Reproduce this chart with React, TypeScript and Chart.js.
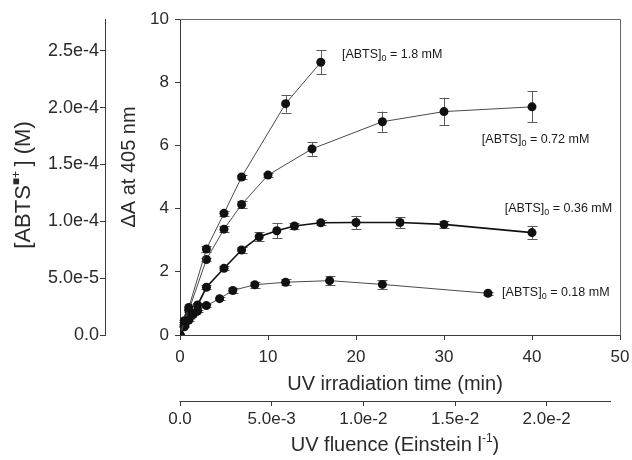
import React, { useEffect, useRef } from 'react';
import { Chart, registerables } from 'chart.js';

Chart.register(...registerables);

// ---- data ----
const SERIES_NAMES = ['1.8', '0.72', '0.36', '0.18'];

const TIME_180 = [0, 0.5, 1, 3, 5, 7, 12, 16];
const DA_180 = [0, 0.45, 0.87, 2.72, 3.85, 5.0, 7.32, 8.63];
const ERR_180 = [0, 0.04, 0.05, 0.1, 0.08, 0.07, 0.28, 0.38];

const TIME_072 = [0, 0.5, 1, 3, 5, 7, 10, 15, 23, 30, 40];
const DA_072 = [0, 0.38, 0.78, 2.39, 3.35, 4.13, 5.06, 5.89, 6.75, 7.07, 7.22];
const ERR_072 = [0, 0.04, 0.05, 0.06, 0.1, 0.12, 0.07, 0.22, 0.32, 0.44, 0.49];

const TIME_036 = [0, 0.5, 1, 2, 3, 5, 7, 9, 11, 13, 16, 20, 25, 30, 40];
const DA_036 = [0, 0.3, 0.6, 0.95, 1.51, 2.11, 2.69, 3.11, 3.3, 3.45, 3.55, 3.56, 3.56, 3.5, 3.24];
const ERR_036 = [0, 0.03, 0.04, 0.05, 0.06, 0.06, 0.08, 0.15, 0.24, 0.08, 0.08, 0.21, 0.17, 0.12, 0.2];

const TIME_018 = [0, 0.5, 1, 1.5, 2, 3, 4.5, 6, 8.5, 12, 17, 23, 35];
const DA_018 = [0, 0.26, 0.47, 0.65, 0.76, 0.93, 1.15, 1.41, 1.59, 1.67, 1.72, 1.6, 1.32];
const ERR_018 = [0, 0.02, 0.03, 0.03, 0.03, 0.04, 0.05, 0.08, 0.1, 0.1, 0.15, 0.13, 0.05];

// label anchors (data coordinates: time, ΔA)
const LABEL_T = [18.4, 34.3, 36.9, 36.6];
const LABEL_DA = [8.92, 6.23, 4.05, 1.39];

const TIME_MIN = 0;
const TIME_MAX = 50;
const TIME_STEP = 10;
const DA_MIN = 0;
const DA_MAX = 10;
const DA_STEP = 2;

const ABTS_MAX = 2.78e-4;
const ABTS_TICKS = [0, 5e-5, 1e-4, 1.5e-4, 2e-4, 2.5e-4];
const ABTS_TICK_LABELS = ['0.0', '5.0e-5', '1.0e-4', '1.5e-4', '2.0e-4', '2.5e-4'];

const FLUENCE_MAX = 0.024;
const FLUENCE_AXIS_END = 0.02351;
const FLUENCE_TICKS = [0, 0.005, 0.01, 0.015, 0.02];
const FLUENCE_TICK_LABELS = ['0.0', '5.0e-3', '1.0e-2', '1.5e-2', '2.0e-2'];

// ---- style ----
const FAMILY = '"Liberation Sans", Arial, Helvetica, sans-serif';
const TEXT = '#2a2a2a';
const AXIS = '#3a3a3a';

type Run = { text: string; size: number; dy: number };

function drawRuns(
  ctx: CanvasRenderingContext2D,
  runs: Run[],
  x: number,
  y: number,
  rot: number,
  align: 'center' | 'left',
  color: string,
) {
  ctx.save();
  ctx.translate(x, y);
  ctx.rotate(rot);
  ctx.fillStyle = color;
  ctx.textBaseline = 'alphabetic';
  ctx.textAlign = 'left';
  let total = 0;
  const widths = runs.map((r) => {
    ctx.font = `${r.size}px ${FAMILY}`;
    const w = ctx.measureText(r.text).width;
    total += w;
    return w;
  });
  let cur = align === 'center' ? -total / 2 : 0;
  runs.forEach((r, i) => {
    ctx.font = `${r.size}px ${FAMILY}`;
    ctx.fillText(r.text, cur, r.dy);
    cur += widths[i];
  });
  ctx.restore();
}

const decorPlugin = {
  id: 'decor',
  beforeDatasetsDraw(chart: any) {
    const ctx = chart.ctx as CanvasRenderingContext2D;
    const xs = chart.scales.x;
    const ys = chart.scales.y;
    ctx.save();
    ctx.strokeStyle = '#5a5a5a';
    ctx.lineWidth = 1;
    chart.data.datasets.forEach((ds: any) => {
      (ds.data as any[]).forEach((p, i) => {
        const e = ds.errors[i];
        if (!e) return;
        const px = Math.round(xs.getPixelForValue(p.x)) + 0.5;
        const y1 = ys.getPixelForValue(p.y + e);
        const y2 = ys.getPixelForValue(p.y - e);
        ctx.beginPath();
        ctx.moveTo(px, y1);
        ctx.lineTo(px, y2);
        ctx.moveTo(px - 5, Math.round(y1) + 0.5);
        ctx.lineTo(px + 5, Math.round(y1) + 0.5);
        ctx.moveTo(px - 5, Math.round(y2) + 0.5);
        ctx.lineTo(px + 5, Math.round(y2) + 0.5);
        ctx.stroke();
      });
    });
    ctx.restore();
  },
  afterDraw(chart: any) {
    const ctx = chart.ctx as CanvasRenderingContext2D;
    const { left, right, top, bottom } = chart.chartArea;
    const xs = chart.scales.x;
    const ys = chart.scales.y;
    const x2 = chart.scales.x2;
    const y2 = chart.scales.y2;
    ctx.save();
    ctx.strokeStyle = '#666';
    ctx.lineWidth = 1;
    ctx.beginPath();
    ctx.moveTo(left, Math.round(top) + 0.5);
    ctx.lineTo(Math.round(right) + 0.5, Math.round(top) + 0.5);
    ctx.lineTo(Math.round(right) + 0.5, bottom);
    ctx.stroke();
    // fluence axis line
    ctx.strokeStyle = AXIS;
    ctx.beginPath();
    const fy = Math.round(x2.top) + 0.5;
    ctx.moveTo(x2.getPixelForValue(0) - 0.5, fy);
    ctx.lineTo(x2.getPixelForValue(FLUENCE_AXIS_END), fy);
    ctx.stroke();
    ctx.restore();

    const midY = (top + bottom) / 2;
    // left outer title
    drawRuns(
      ctx,
      [
        { text: '[ABTS', size: 22, dy: 0 },
        { text: '\u25A0+', size: 12, dy: -10 },
        { text: '\u2009] (M)', size: 22, dy: 0 },
      ],
      y2.left + 30,
      midY + 8,
      -Math.PI / 2,
      'center',
      TEXT,
    );
    // inner left title
    drawRuns(ctx, [{ text: '\u0394A at 405 nm', size: 20, dy: 0 }], ys.left + 30, midY - 10, -Math.PI / 2, 'center', TEXT);
    // time title
    drawRuns(ctx, [{ text: 'UV irradiation time (min)', size: 20, dy: 0 }], (left + right) / 2 - 5, xs.top + 55, 0, 'center', TEXT);
    // fluence title
    drawRuns(
      ctx,
      [
        { text: 'UV fluence (Einstein l', size: 20, dy: 0 },
        { text: '-1', size: 12, dy: -9 },
        { text: ')', size: 20, dy: 0 },
      ],
      (left + right) / 2 - 5,
      x2.top + 50,
      0,
      'center',
      TEXT,
    );
    // series labels
    SERIES_NAMES.forEach((name, i) => {
      const lx = xs.getPixelForValue(LABEL_T[i]);
      const ly = ys.getPixelForValue(LABEL_DA[i]) + 4.5;
      drawRuns(
        ctx,
        [
          { text: '[ABTS]', size: 12.5, dy: 0 },
          { text: '0', size: 9, dy: 3 },
          { text: ' = ' + name + ' mM', size: 12.5, dy: 0 },
        ],
        lx,
        ly,
        0,
        'left',
        '#1a1a1a',
      );
    });
  },
};

function mk(times: number[], vals: number[], errs: number[], lineColor: string, lw: number) {
  return {
    data: times.map((t, i) => ({ x: t, y: vals[i] })),
    errors: errs,
    showLine: true,
    borderColor: lineColor,
    borderWidth: lw,
    backgroundColor: '#111',
    pointBackgroundColor: '#111',
    pointBorderWidth: 0,
    pointRadius: 4.5,
    xAxisID: 'x',
    yAxisID: 'y',
  } as any;
}

export default function App() {
  const ref = useRef<HTMLCanvasElement | null>(null);
  useEffect(() => {
    document.body.style.margin = '0';
    if (!ref.current) return;
    const chart = new Chart(ref.current, {
      type: 'scatter',
      data: {
        datasets: [
          mk(TIME_180, DA_180, ERR_180, '#4a4a4a', 1),
          mk(TIME_072, DA_072, ERR_072, '#4a4a4a', 1),
          mk(TIME_036, DA_036, ERR_036, '#111', 1.6),
          mk(TIME_018, DA_018, ERR_018, '#4a4a4a', 1),
        ],
      },
      plugins: [decorPlugin],
      options: {
        animation: false,
        responsive: false,
        events: [],
        layout: { padding: { left: 0, right: 12, top: 19, bottom: 0 } },
        plugins: { legend: { display: false }, tooltip: { enabled: false } },
        font: { family: FAMILY } as any,
        scales: {
          x: {
            type: 'linear',
            position: 'bottom',
            weight: 0,
            min: TIME_MIN,
            max: TIME_MAX,
            ticks: { stepSize: TIME_STEP, color: TEXT, font: { size: 17, family: FAMILY }, padding: 7, maxRotation: 0 },
            grid: { drawOnChartArea: false, drawTicks: true, tickLength: 5, color: AXIS },
            border: { display: true, color: AXIS },
            afterFit: (s: any) => { s.height = 66; s.paddingRight = 0; s.paddingLeft = 0; },
          },
          x2: {
            type: 'linear',
            position: 'bottom',
            weight: 1,
            min: 0,
            max: FLUENCE_MAX,
            afterBuildTicks: (s: any) => { s.ticks = FLUENCE_TICKS.map((v) => ({ value: v })); },
            ticks: {
              color: TEXT,
              font: { size: 17, family: FAMILY },
              padding: 3,
              maxRotation: 0,
              autoSkip: false,
              callback: (_v: any, i: number) => FLUENCE_TICK_LABELS[i],
            },
            grid: { drawOnChartArea: false, drawTicks: true, tickLength: 5, color: AXIS },
            border: { display: false },
            afterFit: (s: any) => { s.height = 59; s.paddingRight = 0; s.paddingLeft = 0; },
          },
          y: {
            type: 'linear',
            position: 'left',
            weight: 0,
            min: DA_MIN,
            max: DA_MAX,
            ticks: { stepSize: DA_STEP, color: TEXT, font: { size: 17, family: FAMILY }, padding: 6 },
            grid: { drawOnChartArea: false, drawTicks: true, tickLength: 5, color: AXIS },
            border: { display: true, color: AXIS },
            afterFit: (s: any) => { s.width = 75; },
          },
          y2: {
            type: 'linear',
            position: 'left',
            weight: 1,
            min: 0,
            max: ABTS_MAX,
            afterBuildTicks: (s: any) => { s.ticks = ABTS_TICKS.map((v) => ({ value: v })); },
            ticks: {
              color: TEXT,
              font: { size: 18, family: FAMILY },
              padding: 1,
              autoSkip: false,
              callback: (_v: any, i: number) => ABTS_TICK_LABELS[i],
            },
            grid: { drawOnChartArea: false, drawTicks: true, tickLength: 5, color: AXIS },
            border: { display: true, color: AXIS },
            afterFit: (s: any) => { s.width = 105; },
          },
        },
      } as any,
    });
    return () => chart.destroy();
  }, []);
  return (
    <div style={{ width: 632, height: 460 }}>
      <canvas ref={ref} width={632} height={460} style={{ display: 'block' }} />
    </div>
  );
}
